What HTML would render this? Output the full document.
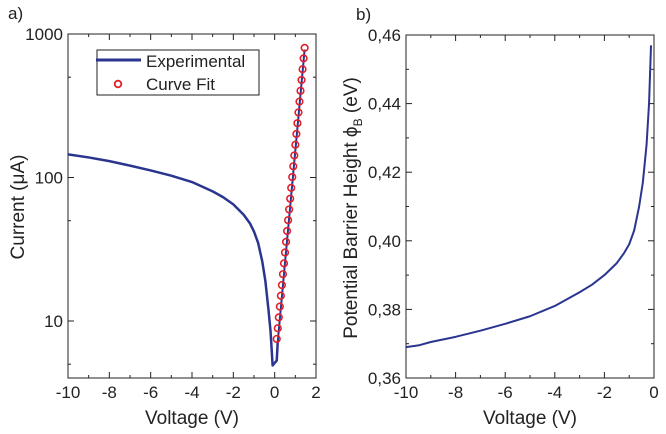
<!DOCTYPE html>
<html><head><meta charset="utf-8"><style>
html,body{margin:0;padding:0;background:#fff;}
svg{display:block;font-family:"Liberation Sans",sans-serif;}
</style></head><body>
<svg id="s" width="666" height="434"></svg>
<script>
const expV=[-10,-9,-8,-7,-6,-5,-4,-3,-2.5,-2,-1.5,-1.2,-1,-0.8,-0.6,-0.45,-0.3,-0.2,-0.15,-0.1,0.1,0.15];
const expI=[145,138,130,121,112,103,93,80,73,65,55,48,42,35,26,19,12,8.5,6.5,4.9,5.3,7.2];
const fitV=[0.1,0.15,0.2,0.25,0.3,0.35,0.4,0.45,0.5,0.55,0.6,0.65,0.7,0.75,0.8,0.85,0.9,0.95,1.0,1.05,1.1,1.15,1.2,1.25,1.3,1.35,1.4,1.45];
const fitI=[7.5,8.9,10.6,12.6,15.0,17.8,21.2,25.2,30,35.6,42.4,50.4,59.9,71.2,84.7,100.7,119.7,142.3,169.2,201,239,284,338,402,478,568,676,800];
const fwdV=[0.15,1.45];
const fwdI=[7.2,780];
const bV=[-10,-9.5,-9,-8,-7,-6,-5,-4,-3,-2.5,-2,-1.5,-1.2,-1,-0.8,-0.6,-0.45,-0.3,-0.2,-0.12];
const bH=[0.369,0.3695,0.3705,0.372,0.3738,0.3758,0.378,0.381,0.385,0.3872,0.390,0.3935,0.3965,0.399,0.403,0.410,0.417,0.428,0.440,0.457];
const aXTicks=[-10,-8,-6,-4,-2,0,2];
const aYTicks=[10,100,1000];
const bXTicks=[-10,-8,-6,-4,-2,0];
const bYTicks=[0.36,0.38,0.40,0.42,0.44,0.46];
const bYLabels=["0,36","0,38","0,40","0,42","0,44","0,46"];

const S=document.getElementById('s');const NS='http://www.w3.org/2000/svg';
function mk(t,a,txt){const e=document.createElementNS(NS,t);for(const k in a)e.setAttribute(k,a[k]);if(txt!==undefined)e.textContent=txt;S.appendChild(e);return e;}
// panel a
const ax=v=>68+(v+10)*(248/12);
const ay=i=>34+(3-Math.log10(i))*143.5;
let e=mk('rect',{x:68,y:34,width:248,height:344,fill:'none',stroke:'#222','stroke-width':1});

for(let v=-10;v<=2;v+=1){const x=ax(v),L=(v%2===0)?6:3;mk('line',{x1:x,y1:378,x2:x,y2:378-L,stroke:'#222'});mk('line',{x1:x,y1:34,x2:x,y2:34+L,stroke:'#222'});}
aXTicks.forEach(v=>{e=mk('text',{x:ax(v),y:398,'font-size':17,'text-anchor':'middle',fill:'#222'},String(v));});
[5,50,500].forEach(i=>{const y=ay(i);mk('line',{x1:68,y1:y,x2:71,y2:y,stroke:'#222'});mk('line',{x1:316,y1:y,x2:313,y2:y,stroke:'#222'});});
aYTicks.forEach(i=>{const y=ay(i);mk('line',{x1:68,y1:y,x2:74,y2:y,stroke:'#222'});mk('line',{x1:316,y1:y,x2:310,y2:y,stroke:'#222'});
e=mk('text',{x:63,y:y+6,'font-size':17,'text-anchor':'end',fill:'#222'},String(i));});
e=mk('text',{x:8,y:19,'font-size':17,fill:'#222'},'a)');
e=mk('text',{x:192,y:424,'font-size':19,'text-anchor':'middle',fill:'#222'},'Voltage (V)');
e=mk('text',{x:0,y:0,'font-size':19,'text-anchor':'middle',fill:'#222',transform:'translate(24,207) rotate(-90)'},'Current (\u03bcA)');
e=mk('polyline',{points:expV.map((v,k)=>ax(v)+','+ay(expI[k])).join(' '),fill:'none',stroke:'#2a3590','stroke-width':2.5,'stroke-linejoin':'round'});

e=mk('polyline',{points:fwdV.map((v,k)=>ax(v)+','+ay(fwdI[k])).join(' '),fill:'none',stroke:'#2a3590','stroke-width':2});

fitV.forEach((v,k)=>{e=mk('circle',{cx:ax(v),cy:ay(fitI[k]),r:3.3,fill:'none',stroke:'#e0202a','stroke-width':1.6});});
e=mk('rect',{x:97,y:50,width:162,height:45,fill:'#fff',stroke:'#222'});
mk('line',{x1:96,y1:60,x2:141,y2:60,stroke:'#2a3590','stroke-width':3});
e=mk('text',{x:146,y:67,'font-size':17,fill:'#222'},'Experimental');
mk('circle',{cx:118,cy:84,r:3.3,fill:'none',stroke:'#e0202a','stroke-width':1.8});
e=mk('text',{x:146,y:90,'font-size':17,fill:'#222'},'Curve Fit');
// panel b
const bx=v=>406+(v+10)*24.8;
const by=h=>35+(0.46-h)/0.1*343;
e=mk('rect',{x:406,y:35,width:248,height:343,fill:'none',stroke:'#222'});
for(let v=-10;v<=0;v+=1){const x=bx(v),L=(v%2===0)?6:3;mk('line',{x1:x,y1:378,x2:x,y2:378-L,stroke:'#222'});mk('line',{x1:x,y1:35,x2:x,y2:35+L,stroke:'#222'});}
for(let h=0.37;h<0.46;h+=0.02){const y=by(h);mk('line',{x1:406,y1:y,x2:409,y2:y,stroke:'#222'});mk('line',{x1:654,y1:y,x2:651,y2:y,stroke:'#222'});}
bXTicks.forEach(v=>{e=mk('text',{x:bx(v),y:398,'font-size':17,'text-anchor':'middle',fill:'#222'},String(v));});
bYTicks.forEach((h,k)=>{const y=by(h);mk('line',{x1:406,y1:y,x2:412,y2:y,stroke:'#222'});mk('line',{x1:654,y1:y,x2:648,y2:y,stroke:'#222'});
e=mk('text',{x:401,y:y+6,'font-size':17,'text-anchor':'end',fill:'#222'},bYLabels[k]);});
e=mk('text',{x:356,y:20,'font-size':17,fill:'#222'},'b)');
e=mk('text',{x:530,y:424,'font-size':19,'text-anchor':'middle',fill:'#222'},'Voltage (V)');
e=mk('text',{x:0,y:0,'font-size':19,'text-anchor':'middle',fill:'#222',transform:'translate(357,208) rotate(-90)'});
e.innerHTML='Potential Barrier Height \u03d5<tspan font-size="12" dy="5">B</tspan><tspan dy="-5"> (eV)</tspan>';

e=mk('polyline',{points:bV.map((v,k)=>bx(v)+','+by(bH[k])).join(' '),fill:'none',stroke:'#2a3590','stroke-width':2,'stroke-linejoin':'round'});

</script>
</body></html>
